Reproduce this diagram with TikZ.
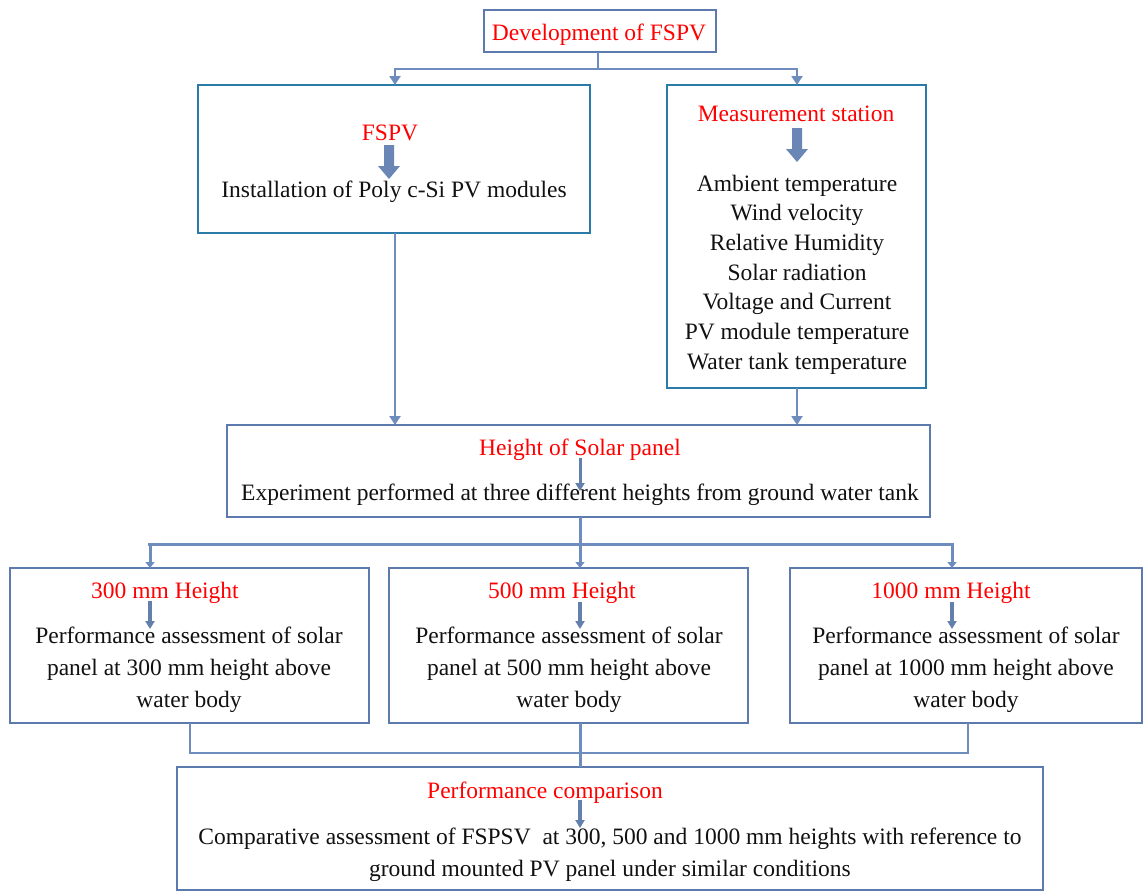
\documentclass[tikz,border=0pt]{standalone}
\usepackage{fontspec}
\setmainfont{Liberation Serif}
\usetikzlibrary{arrows.meta}
\definecolor{conn}{HTML}{6E8DBE}
\definecolor{boxA}{HTML}{5C7AAE}
\definecolor{boxT}{HTML}{2A7BA8}
\definecolor{txt}{HTML}{111111}
\definecolor{red}{HTML}{FF0000}
\tikzset{
  box/.style={draw, line width=2pt, inner sep=0pt, outer sep=0pt, fill=white},
  boxa/.style={box, draw=boxA},
  boxt/.style={box, draw=boxT},
  lbl/.style={font=\fontsize{23.5}{29.7}\selectfont, text=txt, anchor=base, inner sep=0pt, align=center},
  lbw/.style={lbl, font=\fontsize{23.5}{32}\selectfont},
  rlbl/.style={lbl, text=red},
  link/.style={draw=conn, line width=2.2pt, -{Triangle[length=9pt,width=11pt]}},
  plain/.style={draw=conn, line width=2.2pt},
  bus/.style={draw=conn, line width=3pt},
  inarrow/.style={draw=conn!90!black, line width=3pt, -{Triangle[length=8pt,width=9pt]}},
}
\begin{document}
\begin{tikzpicture}[x=1pt,y=-1pt]
\useasboundingbox (0,0) rectangle (1145,892);
% boxes
\node[boxa, minimum width=232pt, minimum height=42pt] (top) at (600,31) {};
\node[boxt, minimum width=392pt, minimum height=148pt] (fspv) at (394,159) {};
\node[boxt, minimum width=259pt, minimum height=303pt] (meas) at (796.5,236.5) {};
\node[boxa, minimum width=703pt, minimum height=92pt] (hgt) at (578.5,471) {};
\node[boxa, minimum width=359pt, minimum height=155pt] (b300) at (189.5,645.5) {};
\node[boxa, minimum width=359pt, minimum height=155pt] (b500) at (568.5,645.5) {};
\node[boxa, minimum width=352pt, minimum height=155pt] (b1000) at (966,645.5) {};
\node[boxa, minimum width=866pt, minimum height=123pt] (perf) at (610,828.5) {};
% texts
\node[rlbl] (t0) at (599,40) {Development of FSPV};
\node[rlbl] (t1) at (390,140) {FSPV};
\node[lbl] (t2) at (394,197) {Installation of Poly c-Si PV modules};
\node[rlbl] (t3) at (796,121) {Measurement station};
\node[lbl, anchor=north] (t4) at (797,174.5) {Ambient temperature\\Wind velocity\\Relative Humidity\\Solar radiation\\Voltage and Current\\PV module temperature\\Water tank temperature};
\node[rlbl] (t5) at (580,455) {Height of Solar panel};
\node[lbl] (t6) at (580,500) {Experiment performed at three different heights from ground water tank};
\node[rlbl] (t7) at (165,598) {300 mm Height};
\node[rlbl] (t8) at (562,598) {500 mm Height};
\node[rlbl] (t9) at (951,598) {1000 mm Height};
\node[lbw, anchor=north] (t10) at (189,627) {Performance assessment of solar\\panel at 300 mm height above\\water body};
\node[lbw, anchor=north] (t11) at (569,627) {Performance assessment of solar\\panel at 500 mm height above\\water body};
\node[lbw, anchor=north] (t12) at (966,627) {Performance assessment of solar\\panel at 1000 mm height above\\water body};
\node[rlbl] (t13) at (545,798) {Performance comparison};
\node[lbw, anchor=north] (t14) at (610,828) {Comparative assessment of FSPSV\ \ at 300, 500 and 1000 mm heights with reference to\\ground mounted PV panel under similar conditions};
% inner block arrows
\fill[conn!95!black] (384,145) -- (394,145) -- (394,166) -- (400,166) -- (389,179) -- (378,166) -- (384,166) -- cycle;
\fill[conn!95!black] (792,128) -- (802,128) -- (802,149) -- (808,149) -- (797,162) -- (786,149) -- (792,149) -- cycle;
\draw[inarrow] (580,458) -- (580,491);
\draw[inarrow, line width=4pt] (150,601) -- (150,629);
\draw[inarrow, line width=4pt] (580,602) -- (580,629);
\draw[inarrow, line width=4pt] (952,602) -- (952,629);
\draw[inarrow, line width=4pt] (580,800) -- (580,828);
% connectors
\coordinate (j0) at (598,69);
\draw[plain] (top.south -| j0) -- (j0);
\draw[link] (j0) -| (fspv.north -| 395,0);
\draw[link] (j0) -| (meas.north -| 797,0);
\draw[link] (fspv.south -| 395,0) -- (hgt.north -| 395,0);
\draw[link] (meas.south -| 797,0) -- (hgt.north -| 797,0);
\coordinate (j1) at (580,544);
\draw[bus] (hgt.south -| j1) -- (j1);
\draw[bus] (148,544) -- (954,544);
\draw[bus, -{Triangle[length=6pt,width=9pt]}] (150,544) -- (b300.north -| 150,0);
\draw[bus, -{Triangle[length=6pt,width=9pt]}] (j1) -- (b500.north -| j1);
\draw[bus, -{Triangle[length=6pt,width=9pt]}] (952,544) -- (b1000.north -| 952,0);
\coordinate (j2) at (190,753);
\coordinate (j3) at (968,753);
\draw[plain] (b300.south -| j2) -- (j2) -- (j3) -- (b1000.south -| j3);
\draw[bus] (b500.south -| 580,0) -- (perf.north -| 580,0);
\end{tikzpicture}
\end{document}
